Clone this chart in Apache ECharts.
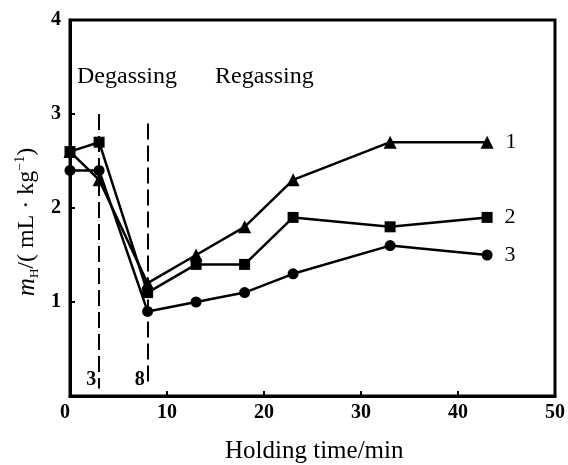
<!DOCTYPE html>
<html>
<head>
<meta charset="utf-8">
<script src="https://cdn.jsdelivr.net/npm/echarts@6/dist/echarts.min.js"></script>
<style>
html,body{margin:0;padding:0;background:#fff;}
#c{width:568px;height:465px;}
</style>
</head>
<body>
<div id="c"></div>
<script>
var times = [0, 3, 8, 13, 18, 23, 33, 43];
var series1 = [2.6, 2.3, 1.2, 1.5, 1.8, 2.3, 2.7, 2.7];
var series2 = [2.6, 2.7, 1.1, 1.4, 1.4, 1.9, 1.8, 1.9];
var series3 = [2.4, 2.4, 0.9, 1.0, 1.1, 1.3, 1.6, 1.5];
var seriesNames = ['1', '2', '3'];
var xTicks = [0, 10, 20, 30, 40, 50];
var yTicks = [0, 1, 2, 3, 4];
var degasLines = [{x: 3, top: 3.0, bottom: 0.08, label: '3'}, {x: 8, top: 2.9, bottom: 0.1, label: '8'}];

var FONT = '"Liberation Serif", "DejaVu Serif", serif';

function buildData(vals, name) {
  return vals.map(function (v, i) {
    var item = {value: [times[i], v]};
    if (i === vals.length - 1) {
      item.label = {
        show: true, position: 'right', distance: 12,
        formatter: name, color: '#000', fontFamily: FONT, fontSize: 22
      };
    }
    return item;
  });
}

var chart = echarts.init(document.getElementById('c'), null, {renderer: 'canvas'});
var symbols = ['triangle', 'rect', 'circle'];
var sizes = [13, 11, 11];
var allVals = [series1, series2, series3];

var seriesList = allVals.map(function (vals, k) {
  return {
    type: 'line',
    name: seriesNames[k],
    data: buildData(vals, seriesNames[k]),
    symbol: symbols[k],
    symbolSize: sizes[k],
    showAllSymbol: true,
    itemStyle: {color: '#000'},
    lineStyle: {color: '#000', width: 2.5},
    clip: false,
    animation: false,
    z: 3
  };
});

seriesList[0].markLine = {
  silent: true,
  symbol: ['none', 'none'],
  animation: false,
  lineStyle: {color: '#000', type: [16, 6], width: 2},
  label: {show: false},
  data: degasLines.map(function (d) {
    return [{coord: [d.x, d.top]}, {coord: [d.x, d.bottom]}];
  })
};
seriesList[0].markPoint = {
  silent: true,
  animation: false,
  symbol: 'circle',
  symbolSize: 0,
  data: degasLines.map(function (d) {
    return {
      coord: [d.x - 0.8, 0.17],
      label: {show: true, formatter: d.label, color: '#000', fontFamily: FONT, fontSize: 20, fontWeight: 'bold'}
    };
  })
};

chart.setOption({
  backgroundColor: '#fff',
  animation: false,
  grid: {left: 70, right: 10, top: 20, bottom: 69, show: true, borderColor: '#000', borderWidth: 3},
  xAxis: {
    type: 'value', min: xTicks[0], max: xTicks[xTicks.length - 1], interval: 10,
    axisLine: {show: true, onZero: false, lineStyle: {color: '#000', width: 3}},
    axisTick: {show: true, inside: true, length: 5, lineStyle: {color: '#000', width: 2}},
    splitLine: {show: false},
    axisLabel: {color: '#000', fontFamily: FONT, fontSize: 20, fontWeight: 'bold', margin: 7,
      alignMinLabel: 'right',
      formatter: function (v) { return xTicks.indexOf(v) >= 0 ? String(v) : ''; }}
  },
  yAxis: {
    type: 'value', min: yTicks[0], max: yTicks[yTicks.length - 1], interval: 1,
    axisLine: {show: true, onZero: false, lineStyle: {color: '#000', width: 3}},
    axisTick: {show: true, inside: true, length: 5, lineStyle: {color: '#000', width: 2}},
    splitLine: {show: false},
    axisLabel: {color: '#000', fontFamily: FONT, fontSize: 20, fontWeight: 'bold', margin: 9, showMinLabel: false,
      formatter: function (v) { return yTicks.indexOf(v) >= 0 ? String(v) : ''; }}
  },
  graphic: [
    {type: 'text', left: 77, top: 65, style: {text: 'Degassing', fill: '#000', font: '24px ' + FONT}},
    {type: 'text', left: 215, top: 65, style: {text: 'Regassing', fill: '#000', font: '24px ' + FONT}},
    {type: 'text', left: 225, top: 439, style: {text: 'Holding time/min', fill: '#000', font: '25px ' + FONT}},
    {
      type: 'text', x: 27, y: 222, rotation: Math.PI / 2,
      style: {
        text: '{i|m}{s|H}{n|/( mL · kg}{p|−1}{n|)}',
        align: 'center', verticalAlign: 'middle', fill: '#000',
        rich: {
          i: {fontFamily: FONT, fontSize: 25, fontStyle: 'italic', lineHeight: 28, verticalAlign: 'middle'},
          s: {fontFamily: FONT, fontSize: 13, lineHeight: 28, verticalAlign: 'bottom'},
          n: {fontFamily: FONT, fontSize: 24, lineHeight: 28, verticalAlign: 'middle'},
          p: {fontFamily: FONT, fontSize: 14, lineHeight: 28, verticalAlign: 'top'}
        }
      }
    }
  ],
  series: seriesList
});
</script>
</body>
</html>
